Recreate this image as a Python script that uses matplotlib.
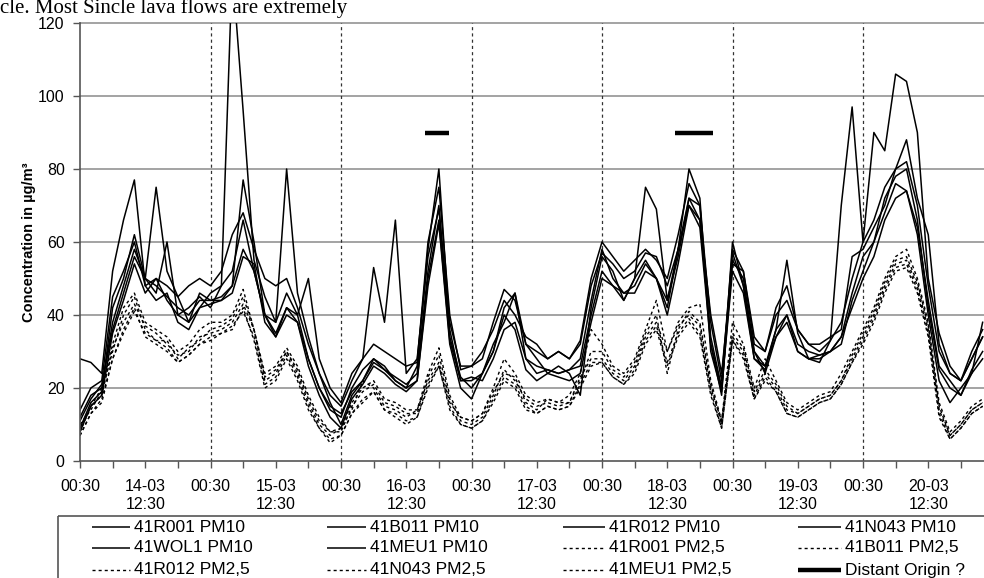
import numpy as np
import matplotlib
matplotlib.use("Agg")
import matplotlib.pyplot as plt
from matplotlib.patches import Rectangle

plt.rcParams['font.family'] = ['Liberation Sans', 'DejaVu Sans']

# hours since 14-03 00:30, 2-hourly samples
hours = np.arange(0, 168, 2)

pm10_r001 = [28, 27, 24, 52, 66, 77, 48, 50, 48, 45, 48, 50,
             48, 52, 62, 68, 58, 50, 48, 50, 42, 32, 24, 18,
             15, 22, 28, 32, 30, 28, 26, 27, 60, 75, 40, 25,
             26, 28, 38, 47, 44, 32, 30, 28, 30, 28, 33, 50,
             60, 56, 52, 55, 58, 55, 50, 62, 76, 70, 38, 22,
             58, 52, 32, 30, 42, 48, 36, 32, 30, 33, 38, 50,
             60, 66, 75, 80, 82, 70, 48, 30, 24, 22, 28, 34]
pm10_b011 = [12, 18, 20, 38, 48, 58, 50, 75, 52, 45, 38, 46,
             44, 45, 48, 77, 60, 40, 34, 42, 40, 28, 20, 14,
             12, 20, 25, 28, 26, 22, 20, 26, 58, 80, 36, 22,
             22, 24, 30, 42, 46, 28, 26, 25, 24, 25, 28, 44,
             58, 50, 46, 48, 54, 50, 42, 58, 80, 72, 32, 18,
             60, 48, 28, 25, 36, 55, 35, 28, 29, 30, 34, 46,
             56, 60, 72, 78, 80, 66, 42, 25, 20, 18, 24, 28]
pm10_r012 = [9, 16, 19, 42, 50, 62, 50, 46, 60, 40, 42, 45,
             42, 48, 135, 96, 55, 45, 38, 80, 46, 34, 24, 16,
             10, 18, 22, 28, 25, 23, 21, 24, 52, 70, 34, 23,
             20, 24, 32, 38, 46, 32, 28, 24, 26, 24, 18, 42,
             56, 52, 44, 50, 55, 50, 44, 56, 72, 70, 30, 19,
             55, 50, 30, 24, 34, 40, 30, 28, 28, 30, 32, 44,
             52, 60, 68, 76, 74, 62, 40, 22, 16, 20, 24, 38]
pm10_n043 = [14, 20, 22, 45, 52, 60, 48, 44, 46, 38, 36, 42,
             46, 48, 52, 66, 52, 40, 38, 46, 40, 50, 28, 20,
             16, 24, 28, 53, 38, 66, 24, 28, 56, 69, 38, 26,
             26, 30, 36, 44, 40, 34, 32, 28, 30, 28, 32, 48,
             57, 54, 50, 52, 57, 56, 48, 58, 72, 66, 40, 24,
             54, 52, 34, 30, 40, 44, 36, 32, 32, 34, 36, 56,
             58, 64, 70, 80, 88, 72, 62, 32, 24, 22, 30, 36]
pm10_wol1 = [11, 17, 21, 36, 46, 56, 50, 48, 45, 42, 40, 44,
             44, 44, 46, 56, 54, 38, 34, 40, 38, 28, 20, 15,
             13, 19, 22, 27, 25, 22, 20, 22, 50, 66, 33, 22,
             23, 22, 28, 36, 38, 28, 24, 25, 24, 25, 26, 40,
             52, 48, 44, 50, 75, 69, 44, 58, 70, 66, 34, 20,
             57, 48, 30, 26, 36, 40, 32, 30, 29, 30, 34, 42,
             50, 56, 66, 72, 74, 64, 44, 26, 22, 18, 25, 30]
pm10_meu1 = [8, 15, 18, 35, 44, 54, 46, 50, 44, 40, 38, 42,
             43, 44, 48, 58, 52, 40, 35, 42, 38, 26, 18, 12,
             9, 17, 21, 26, 24, 21, 19, 22, 48, 65, 32, 20,
             17, 24, 30, 40, 36, 25, 22, 24, 23, 22, 24, 38,
             50, 48, 46, 46, 52, 50, 40, 54, 70, 64, 32, 20,
             52, 46, 28, 26, 34, 38, 30, 28, 27, 33, 70, 97,
             60, 90, 85, 106, 104, 90, 50, 35, 26, 22, 28, 34]

pm25_r001 = [9, 15, 20, 32, 42, 46, 38, 36, 34, 30, 32, 36,
             38, 38, 40, 47, 36, 24, 26, 31, 26, 18, 12, 8,
             9, 16, 20, 22, 17, 16, 14, 14, 24, 31, 18, 12,
             11, 13, 20, 28, 24, 18, 16, 17, 16, 18, 24, 36,
             32, 26, 24, 28, 36, 44, 30, 38, 42, 43, 22, 11,
             38, 32, 20, 28, 22, 16, 14, 16, 18, 19, 24, 30,
             36, 42, 50, 56, 58, 50, 38, 16, 8, 11, 15, 17]
pm25_b011 = [7, 13, 17, 28, 36, 42, 34, 32, 30, 27, 29, 32,
             34, 35, 36, 42, 33, 20, 22, 28, 22, 14, 9, 5,
             7, 13, 16, 19, 14, 12, 10, 12, 20, 26, 14, 10,
             9, 11, 16, 22, 20, 14, 13, 15, 14, 15, 20, 26,
             27, 23, 21, 24, 32, 36, 26, 34, 38, 34, 18, 9,
             33, 28, 17, 22, 19, 13, 12, 14, 16, 17, 21, 27,
             32, 38, 46, 52, 53, 46, 34, 12, 6, 9, 13, 15]
pm25_r012 = [10, 14, 19, 30, 40, 45, 36, 33, 33, 28, 31, 33,
             36, 37, 39, 45, 36, 23, 25, 30, 25, 17, 11, 8,
             8, 15, 19, 21, 16, 15, 13, 13, 23, 29, 17, 11,
             10, 12, 18, 25, 22, 17, 15, 16, 15, 16, 22, 30,
             30, 25, 23, 27, 35, 40, 24, 36, 41, 38, 21, 10,
             35, 31, 19, 25, 21, 15, 13, 15, 17, 18, 22, 29,
             35, 41, 49, 55, 56, 49, 37, 15, 7, 10, 14, 16]
pm25_n043 = [8, 15, 18, 31, 38, 43, 37, 35, 32, 29, 30, 34,
             35, 36, 38, 43, 36, 22, 24, 30, 24, 16, 10, 7,
             9, 14, 22, 20, 15, 14, 12, 14, 22, 27, 16, 12,
             11, 13, 19, 24, 23, 16, 14, 17, 16, 16, 23, 28,
             28, 24, 22, 26, 34, 38, 30, 37, 40, 37, 20, 11,
             34, 30, 18, 24, 20, 14, 13, 15, 17, 18, 22, 28,
             34, 40, 48, 54, 55, 48, 36, 14, 7, 10, 14, 16]
pm25_meu1 = [7, 13, 16, 28, 35, 41, 35, 33, 31, 27, 29, 32,
             33, 35, 37, 41, 34, 21, 23, 29, 23, 15, 9, 6,
             7, 13, 17, 19, 14, 13, 11, 12, 21, 26, 15, 10,
             9, 11, 17, 23, 21, 15, 13, 15, 14, 15, 21, 27,
             27, 23, 21, 25, 33, 37, 27, 35, 39, 35, 19, 9,
             33, 29, 17, 23, 19, 13, 12, 14, 16, 17, 21, 27,
             33, 39, 47, 53, 54, 47, 35, 13, 6, 9, 13, 15]

series_names = ["41R001 PM10", "41B011 PM10", "41R012 PM10", "41N043 PM10",
                "41WOL1 PM10", "41MEU1 PM10", "41R001 PM2,5", "41B011 PM2,5",
                "41R012 PM2,5", "41N043 PM2,5", "41MEU1 PM2,5"]
series_values = [pm10_r001, pm10_b011, pm10_r012, pm10_n043, pm10_wol1, pm10_meu1,
                 pm25_r001, pm25_b011, pm25_r012, pm25_n043, pm25_meu1]
series_kind = ["pm10"] * 6 + ["pm25"] * 5

distant_label = "Distant Origin ?"
distant_start = [63.4, 109.4]
distant_end = [67.9, 116.4]
distant_level = [90, 90]

day_labels = ["14-03", "15-03", "16-03", "17-03", "18-03", "19-03", "20-03"]
y_ticks = [0, 20, 40, 60, 80, 100, 120]
y_label = "Concentration in µg/m³"
page_text = "cle. Most Sincle lava flows are extremely"

W, H = 984, 578
fig = plt.figure(figsize=(W / 100, H / 100), dpi=100)
px_per_h = (863 - 80) / 144.0
ax = fig.add_axes([80 / W, (H - 461) / H, (W - 80) / W, (461 - 23) / H])
ax.set_xlim(0, (W - 80) / px_per_h)
ax.set_ylim(0, 120)

styles = {"pm10": dict(color="black", lw=1.1, ls="-"),
          "pm25": dict(color="black", lw=1.0, ls=(0, (2.2, 2.2)))}

for yv in y_ticks[1:]:
    ax.axhline(yv, color="#8a8a8a", lw=1.1, zorder=1, clip_on=False)
for d in range(1, 7):
    ax.axvline(24 * d, color="#333333", lw=0.9, ls=(0, (2.5, 2.5)), zorder=1)

for vals, kind in zip(series_values, series_kind):
    ax.plot(hours, vals, zorder=3, **styles[kind])

for s, e, lv in zip(distant_start, distant_end, distant_level):
    ax.plot([s, e], [lv, lv], color="black", lw=3.2, solid_capstyle="butt", zorder=4)

tick_pos = np.arange(0, 163, 6)
labels = []
for t in tick_pos:
    if t % 24 == 0:
        labels.append("00:30")
    elif t % 24 == 12:
        labels.append(day_labels[t // 24] + "\n12:30")
    else:
        labels.append("")
ax.set_xticks(tick_pos)
ax.set_xticklabels(labels, linespacing=1.25)
ax.set_yticks(y_ticks)
ax.tick_params(direction="out", length=5, width=1, color="#555555", labelsize=11.5)
ax.tick_params(axis="x", pad=8)
ax.tick_params(axis="y", pad=6)
for sp in ["top", "right"]:
    ax.spines[sp].set_visible(False)
for sp in ["left", "bottom"]:
    ax.spines[sp].set_color("#555555")
    ax.spines[sp].set_linewidth(1.2)
    ax.spines[sp].set_zorder(5)

ax.set_ylabel(y_label, fontsize=10.5, fontweight="bold")
ax.yaxis.set_label_coords((36 - 80) / (W - 80), 0.5)

# overlay in pixel coordinates for legend and page text
ov = fig.add_axes([0, 0, 1, 1])
ov.set_xlim(0, W)
ov.set_ylim(H, 0)
ov.axis("off")
ov.add_patch(Rectangle((58, 516), 1000, 100, fill=False, edgecolor="#555555", lw=1.2))

col_line = [(92, 130), (327, 366), (563, 605), (798, 841)]
row_y = [527, 548, 570]
entries = [(n, styles[k]) for n, k in zip(series_names, series_kind)]
entries.append((distant_label, dict(color="black", lw=3.2, ls="-")))
for i, (name, st) in enumerate(entries):
    r, c = divmod(i, 4)
    x0, x1 = col_line[c]
    y = row_y[r]
    ov.plot([x0, x1], [y, y], solid_capstyle="butt", **st)
    ov.text(x1 + 4, y, name, fontsize=12.5, va="center", ha="left")

ov.text(0, 13, page_text, fontsize=15, family=["Liberation Serif", "DejaVu Serif"],
        va="baseline", ha="left")

fig.savefig("out.png", dpi=100)
